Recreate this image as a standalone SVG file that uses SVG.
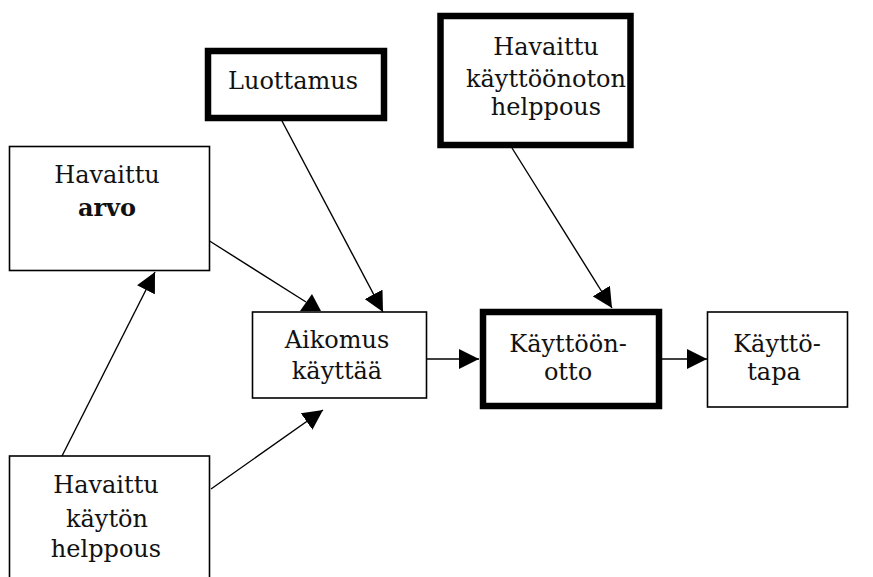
<svg xmlns="http://www.w3.org/2000/svg" width="873" height="577" viewBox="0 0 873 577">
<style>
.thin{fill:#fff;stroke:#000;stroke-width:1.6}
.thick{fill:#fff;stroke:#000;stroke-width:6.5}
.t{font-family:"DejaVu Serif","Liberation Serif",serif;font-size:24px;fill:#111;text-anchor:middle}
.b{font-weight:bold}
.c{stroke:#000;stroke-width:1.4;fill:none}
.c.a{marker-end:url(#ah)}
</style>
<defs>
<marker id="ah" markerUnits="userSpaceOnUse" markerWidth="20" markerHeight="20" refX="20" refY="10" orient="auto" viewBox="0 0 20 20">
<path d="M0,0 L20,10 L0,20 z" fill="#000"/>
</marker>
</defs>
<rect width="873" height="577" fill="#fff"/>
<g id="connectors">
<line class="c a" x1="62" y1="456" x2="155" y2="272"/>
<line class="c" x1="208" y1="240" x2="306" y2="302"/>
<polygon points="312,294 300,311 321,311" fill="#000"/>
<line class="c a" x1="282" y1="121" x2="383" y2="312"/>
<line class="c a" x1="512" y1="148" x2="612" y2="308"/>
<line class="c a" x1="211" y1="489" x2="323" y2="410"/>
<line class="c a" x1="427" y1="359" x2="479" y2="359"/>
<line class="c a" x1="662" y1="359" x2="707" y2="359"/>
</g>
<g id="havaittu-arvo">
<rect class="thin" x="9.5" y="146.5" width="200" height="124"/>
<text class="t" x="107" y="183">Havaittu</text>
<text class="t b" x="107" y="216">arvo</text>
</g>
<g id="luottamus">
<rect class="thick" x="208" y="51" width="176" height="67"/>
<text class="t" x="293" y="89">Luottamus</text>
</g>
<g id="havaittu-kayttoonoton-helppous">
<rect class="thick" x="440.5" y="16" width="190" height="129"/>
<text class="t" x="546" y="55">Havaittu</text>
<text class="t" x="546" y="87">käyttöönoton</text>
<text class="t" x="546" y="115">helppous</text>
</g>
<g id="aikomus-kayttaa">
<rect class="thin" x="252.5" y="312" width="174" height="86"/>
<text class="t" x="337" y="348">Aikomus</text>
<text class="t" x="337" y="379">käyttää</text>
</g>
<g id="kayttoonotto">
<rect class="thick" x="483" y="312" width="176" height="94"/>
<text class="t" x="568" y="352">Käyttöön-</text>
<text class="t" x="568" y="380">otto</text>
</g>
<g id="kayttotapa">
<rect class="thin" x="707.5" y="312" width="140" height="95"/>
<text class="t" x="777" y="352">Käyttö-</text>
<text class="t" x="774" y="380">tapa</text>
</g>
<g id="havaittu-kayton-helppous">
<rect class="thin" x="9.5" y="456" width="200" height="140"/>
<text class="t" x="106" y="493">Havaittu</text>
<text class="t" x="107" y="527">käytön</text>
<text class="t" x="106" y="557">helppous</text>
</g>
</svg>
